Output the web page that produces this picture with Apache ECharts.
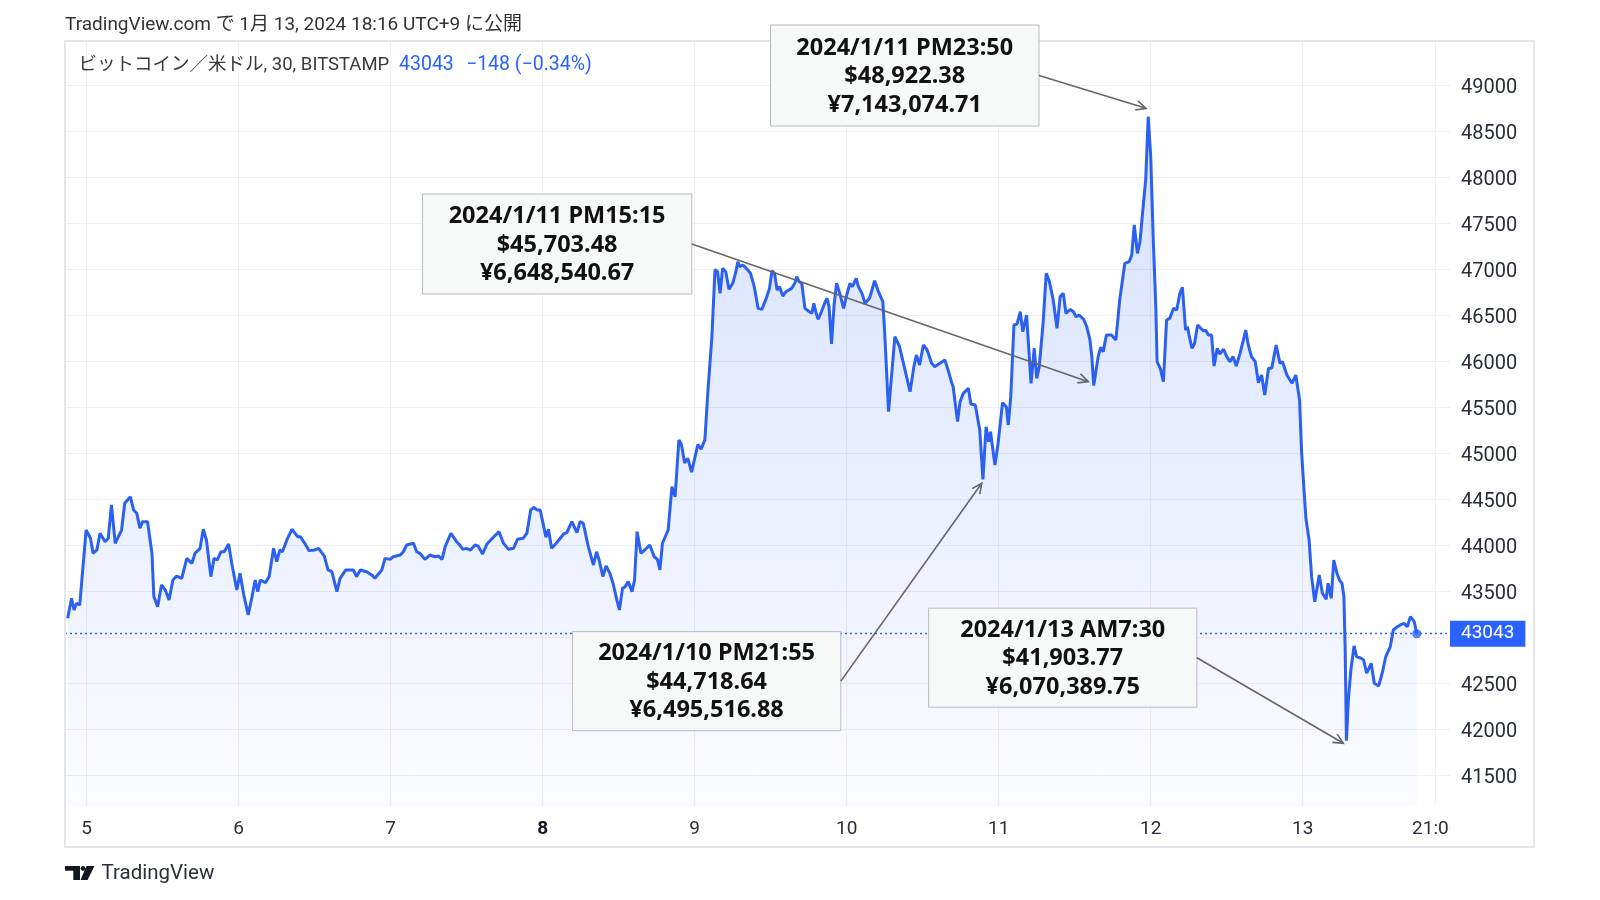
<!DOCTYPE html>
<html><head><meta charset="utf-8">
<script src="https://cdn.jsdelivr.net/npm/echarts@6/dist/echarts.min.js"></script>
<style>html,body{margin:0;padding:0;background:#fff}#c{width:1600px;height:900px}</style>
</head><body><div id="c"></div>
<script>
// ---- DATA (hours since 2024-01-05 00:00 JST, BTC/USD 30m closes) ----
const hours = [
-3.0,-2.4,-2.0,-1.6,-1.1,-0.1,0.6,1.0,1.6,2.1,2.9,3.4,3.9,4.5,5.5,6.0,6.9,7.4,7.9,8.4,8.8,9.6,10.3,10.6,11.2,11.8,12.4,13.0,13.6,14.2,15.0,15.8,16.6,17.1,17.9,18.4,18.9,19.6,20.1,20.6,21.2,21.7,22.4,22.9,23.7,24.2,24.8,25.5,26.1,26.6,27.0,27.4,28.2,28.8,29.5,30.0,30.5,30.9,31.6,32.4,33.3,33.7,34.5,35.1,36.0,36.6,37.5,38.1,38.7,39.5,40.0,40.9,42.1,42.6,43.2,44.2,45.0,45.5,46.6,47.1,47.9,48.4,49.5,50.0,50.5,51.6,52.1,52.6,53.4,54.2,55.0,55.5,56.1,56.6,56.9,57.5,58.4,58.9,
59.4,59.9,60.6,61.3,61.8,62.5,63.2,64.2,65.1,65.8,66.6,67.4,68.0,68.9,69.5,70.1,70.6,71.1,71.6,72.1,72.5,72.9,73.4,74.2,75.3,75.8,76.6,77.4,77.9,78.4,79.2,80.0,80.5,80.9,81.5,82.0,82.6,83.1,83.7,84.1,84.6,85.0,85.5,86.1,86.5,86.9,87.5,88.2,88.9,89.6,90.1,90.5,90.9,91.8,92.4,92.9,93.5,93.9,94.4,94.9,95.5,96.0,96.5,97.0,97.6,98.1,98.7,99.2,
99.6,100.0,100.4,100.9,101.4,102.0,102.5,102.8,103.1,103.6,104.3,104.8,105.4,106.0,106.6,107.3,107.8,108.2,108.6,109.0,109.4,109.9,110.4,111.3,111.8,112.1,112.5,112.9,113.4,114.1,114.5,114.8,115.2,115.5,116.0,116.6,116.9,117.2,117.6,118.0,118.4,118.9,119.5,120.0,120.5,120.9,121.5,121.8,122.4,122.9,123.6,124.4,125.0,125.7,126.0,126.6,127.6,128.3,129.2,130.0,130.6,131.0,131.5,132.1,132.7,133.4,133.9,134.7,135.5,136.0,136.6,136.8,137.5,137.9,138.4,139.2,139.6,140.3,140.6,141.0,141.5,142.0,142.4,142.7,143.4,143.9,144.6,145.2,145.5,145.9,146.4,146.9,147.4,147.8,148.4,149.1,149.6,150.0,150.4,151.0,151.5,152.0,152.6,153.2,153.7,154.2,154.6,155.3,155.8,156.2,156.7,157.4,157.9,158.4,158.7,159.0,159.7,160.1,160.5,161.0,161.8,162.5,163.1,163.9,164.6,165.0,165.4,165.9,166.3,166.8,167.2,167.6,168.0,168.4,168.8,169.0,169.5,170.0,170.5,171.0,171.6,172.1,172.6,173.0,173.5,173.8,174.1,174.5,174.9,175.4,175.9,176.3,176.7,177.1,177.6,178.0,178.5,178.9,179.5,180.0,180.5,181.0,181.5,182.1,182.6,183.0,183.4,183.9,184.5,185.0,185.5,186.0,186.6,187.1,187.8,188.4,188.8,189.5,190.3,190.9,191.5,191.8,192.2,192.5,193.0,193.4,193.9,194.6,195.1,195.7,196.0,196.5,196.9,197.4,197.8,198.2,198.5,198.7,198.9,199.2,199.6,200.1,200.5,201.2,201.6,202.1,202.8,203.3,204.0,204.6,205.1,205.8,206.3,206.8,207.4,208.0,208.5,209.0,209.6,210.0
];
const prices = [
43211,43428,43301,43374,43355,44170,44080,43917,43953,44135,44043,44080,44442,44026,44170,44461,44532,44388,44352,44189,44261,44261,43917,43446,43337,43573,43518,43410,43627,43670,43645,43862,43808,43917,43971,44178,44062,43663,43862,43844,43934,43934,44018,43808,43518,43700,43464,43247,43446,43627,43500,43627,43598,43663,43971,43826,43953,43934,44062,44178,44098,44098,44018,43946,43953,43971,43888,43736,43717,43500,43645,43736,43736,43663,43736,43717,43681,43645,43736,43862,43851,43880,43898,43934,44007,44026,43934,43917,43851,43898,43880,43888,43851,43989,43982,44135,44043,44007,
43960,43971,43953,44007,43997,43910,44018,44091,44152,44026,43960,43971,44069,44080,44135,44388,44417,44388,44388,44225,44091,44178,43971,44032,44127,44141,44261,44141,44261,44243,43989,43790,43934,43844,43663,43779,43700,43591,43410,43301,43537,43554,43609,43500,43627,44152,43917,43960,44007,43880,43851,43736,44026,44170,44641,44530,45150,45100,44900,44950,44800,44950,45100,45050,45150,45700,46260,46998,
46980,46743,47015,46978,46787,46852,46978,47087,47033,47051,47004,46961,46815,46580,46569,46689,46797,46989,46961,46779,46815,46714,46761,46797,46852,46924,46870,46852,46580,46543,46526,46634,46518,46461,46543,46652,46689,46598,46192,46616,46852,46743,46580,46725,46852,46815,46906,46823,46743,46634,46689,46880,46761,46652,46309,45456,46272,46171,45910,45674,45946,46073,45964,46182,46127,45982,45946,45982,46018,45910,45765,45728,45348,45566,45656,45710,45540,45529,45529,45257,44720,45293,45130,45239,44877,45113,45554,45511,45312,45620,46399,46410,46543,46326,46507,45765,46146,45819,45946,46417,46961,46870,46671,46363,46707,46743,46526,46569,46543,46489,46507,46461,46380,46236,46055,45740,46055,46156,46109,46290,46290,46236,46671,47069,47087,47160,47486,47178,47304,47685,47975,48663,48228,47323,46598,46000,45928,45783,46453,46471,46580,46562,46743,46808,46344,46380,46272,46146,46192,46399,46363,46337,46340,46290,46290,45953,46146,46084,46135,46055,46000,46055,45953,46091,46228,46344,46182,46055,46000,45772,45855,45638,45928,45928,46180,45982,46000,45855,45765,45855,45584,45040,44605,44298,44062,43663,43391,43681,43482,43417,43591,43428,43844,43700,43627,43591,43446,42866,41880,42323,42649,42910,42793,42776,42760,42613,42721,42504,42475,42631,42793,42896,43083,43112,43138,43156,43119,43228,43174,43043
];
const lastPrice = 43043;
const changeText = '\u2212148 (\u22120.34%)';
const priceTickMin = 41500, priceTickMax = 49000, priceTickStep = 500;
const dayTickStart = -24, dayTickStep = 24, lastTimeTick = 213; // 13日 21:00
const lastTimeLabel = '21:00';
const firstDay = 5, boldDay = 8;

const titleText = 'TradingView.com で 1月 13, 2024 18:16 UTC+9 に公開';
const symbolText = 'ビットコイン／米ドル, 30, BITSTAMP';

const noteTimes = ['2024/1/11 PM23:50','2024/1/11 PM15:15','2024/1/10 PM21:55','2024/1/13 AM7:30'];
const noteUsd = ['$48,922.38','$45,703.48','$44,718.64','$41,903.77'];
const noteJpy = ['¥7,143,074.71','¥6,648,540.67','¥6,495,516.88','¥6,070,389.75'];
const noteTargetHours = [167.25, 158.14, 141.31, 198.41];
const noteTargetPrices = [48754, 45783, 44678, 41852];

// ---- LAYOUT ----
const noteBoxes = [[770.5,25,268.5,101],[422.4,194,269.4,100],[572.4,631.6,268.4,99],[928.6,608.2,268.3,99]];
const FONT = 'Roboto, "Noto Sans CJK JP", sans-serif';
const BLUE = '#2962ff';
const GRID = '#eef0f3';

const series = hours.map((h, i) => [h, prices[i]]);
const chart = echarts.init(document.getElementById('c'), null, {renderer: 'canvas'});

chart.setOption({
  animation: false,
  backgroundColor: '#fff',
  grid: [
    {left: 65, top: 41, width: 1385, height: 765, containLabel: false, outerBoundsMode: 'none'},
    {left: 65, top: 85.7, width: 1385, height: 690, containLabel: false, outerBoundsMode: 'none'},
    {left: -65.3, top: 41, width: 1501, height: 765, containLabel: false, outerBoundsMode: 'none'},
    {left: 65, top: 87.7, width: 1385, height: 690, containLabel: false, outerBoundsMode: 'none'}
  ],
  xAxis: [
    {gridIndex: 0, type: 'value', min: -3.43, max: 215.25, show: false},
    {gridIndex: 1, type: 'value', min: 0, max: 1, show: false},
    {gridIndex: 2, type: 'value', min: dayTickStart, max: lastTimeTick, interval: dayTickStep,
     axisLine: {show: false}, axisTick: {show: false},
     splitLine: {show: true, lineStyle: {color: GRID, width: 1}},
     axisLabel: {margin: 14, fontSize: 19, color: '#2a2e39', fontFamily: FONT,
       showMinLabel: true, showMaxLabel: true,
       formatter: v => {
         if (v === lastTimeTick) return lastTimeLabel;
         const d = firstDay + Math.round(v / 24);
         return d === boldDay ? '{b|' + d + '}' : String(d);
       },
       rich: {b: {fontWeight: 'bold', fontSize: 19, color: '#131722', fontFamily: FONT}}
     }},
    {gridIndex: 3, type: 'value', min: 0, max: 1, show: false}
  ],
  yAxis: [
    {gridIndex: 0, type: 'value', min: 41170, max: 49486, show: false},
    {gridIndex: 1, type: 'value', position: 'right', min: priceTickMin, max: priceTickMax, interval: priceTickStep,
     axisLine: {show: false}, axisTick: {show: false}, axisLabel: {show: false},
     splitLine: {show: true, lineStyle: {color: GRID, width: 1}}},
    {gridIndex: 2, type: 'value', min: 0, max: 1, show: false},
    {gridIndex: 3, type: 'value', position: 'right', min: priceTickMin, max: priceTickMax, interval: priceTickStep,
     axisLine: {show: false}, axisTick: {show: false}, splitLine: {show: false},
     axisLabel: {margin: 11, fontSize: 20, color: '#2a2e39', fontFamily: FONT, formatter: v => String(v)}}
  ],
  series: [
    {
      type: 'line', xAxisIndex: 0, yAxisIndex: 0, data: series,
      showSymbol: false, symbol: 'none', smooth: false,
      lineStyle: {color: '#2b60f0', width: 3},
      areaStyle: {origin: 'start', color: new echarts.graphic.LinearGradient(0, 0, 0, 1, [
        {offset: 0, color: 'rgba(41,98,255,0.27)'},
        {offset: 1, color: 'rgba(41,98,255,0.03)'}
      ])},
      markLine: {
        silent: true, symbol: ['none', 'none'], animation: false,
        lineStyle: {color: BLUE, type: [2, 3], width: 1.4},
        label: {position: 'end', distance: 0, formatter: String(lastPrice), backgroundColor: BLUE,
          color: '#fff', padding: [5, 11, 2, 11], fontSize: 19, fontFamily: FONT},
        emphasis: {disabled: true},
        data: [{yAxis: lastPrice}]
      },
      z: 3
    },
    {
      type: 'scatter', xAxisIndex: 0, yAxisIndex: 0,
      data: [[hours[hours.length - 1], prices[prices.length - 1]]],
      symbolSize: 9, itemStyle: {color: BLUE}, z: 4, silent: true
    }
  ]
});

// ---- overlays ----
const g = [];
g.push({type: 'rect', shape: {x: 65, y: 41, width: 1469, height: 806},
  style: {fill: 'none', stroke: '#e3e5ea', lineWidth: 2}, z: 60, silent: true});
g.push({type: 'rect', shape: {x: 1449.5, y: 809, width: 82, height: 36},
  style: {fill: '#fff'}, z: 50, silent: true});
g.push({type: 'text', x: 65, y: 25, style: {text: titleText, fontSize: 19, fontFamily: FONT,
  fill: '#333', align: 'left', verticalAlign: 'middle'}, z: 60});
g.push({type: 'text', x: 78.6, y: 65.5, style: {text: symbolText, fontSize: 18.5, fontFamily: FONT,
  fill: '#3a3a3a', align: 'left', verticalAlign: 'middle'}, z: 60});
g.push({type: 'text', x: 399, y: 65.5, style: {text: String(lastPrice), fontSize: 19.5, fontFamily: FONT,
  fill: BLUE, align: 'left', verticalAlign: 'middle'}, z: 60});
g.push({type: 'text', x: 466, y: 65.5, style: {text: changeText, fontSize: 19.5, fontFamily: FONT,
  fill: BLUE, align: 'left', verticalAlign: 'middle'}, z: 60});
// TradingView logo
g.push({type: 'rect', shape: {x: 65, y: 866, width: 15, height: 4.7}, style: {fill: '#131722'}, z: 60});
g.push({type: 'rect', shape: {x: 73.3, y: 866, width: 6.7, height: 14}, style: {fill: '#131722'}, z: 60});
g.push({type: 'circle', shape: {cx: 83, cy: 868.4, r: 2.4}, style: {fill: '#131722'}, z: 60});
g.push({type: 'polygon', shape: {points: [[86.5, 866], [94.5, 866], [87.5, 880], [80.5, 880]]}, style: {fill: '#131722'}, z: 60});
g.push({type: 'text', x: 101.5, y: 874, style: {text: 'TradingView', fontSize: 20.5, fontFamily: FONT,
  fill: '#2a2e39', align: 'left', verticalAlign: 'middle'}, z: 60});

noteBoxes.forEach((b, i) => {
  g.push({type: 'rect', shape: {x: b[0], y: b[1], width: b[2], height: b[3]},
    style: {fill: '#f7f8f8', stroke: '#b8bbbf', lineWidth: 1}, z: 100});
  g.push({type: 'text', x: b[0] + b[2] / 2, y: b[1] + b[3] / 2 + 1,
    style: {text: [noteTimes[i], noteUsd[i], noteJpy[i]].join('\n'), fontSize: 23.5, fontWeight: 'bold',
      fontFamily: '"Noto Sans", "Noto Sans CJK JP", sans-serif', fill: '#111', align: 'center',
      verticalAlign: 'middle', lineHeight: 28.5}, z: 101});
  const tip = chart.convertToPixel({xAxisIndex: 0, yAxisIndex: 0}, [noteTargetHours[i], noteTargetPrices[i]]);
  const sx = b[0] + b[2], sy = b[1] + b[3] / 2;
  const ang = Math.atan2(tip[1] - sy, tip[0] - sx);
  const L = 11, a = 0.45;
  g.push({type: 'line', shape: {x1: sx, y1: sy, x2: tip[0], y2: tip[1]},
    style: {stroke: '#666', lineWidth: 1.6}, z: 100});
  g.push({type: 'polyline', shape: {points: [
    [tip[0] - L * Math.cos(ang - a), tip[1] - L * Math.sin(ang - a)], tip,
    [tip[0] - L * Math.cos(ang + a), tip[1] - L * Math.sin(ang + a)]]},
    style: {stroke: '#666', lineWidth: 1.6, fill: null}, z: 100});
});
chart.setOption({graphic: g});
</script>
</body></html>
